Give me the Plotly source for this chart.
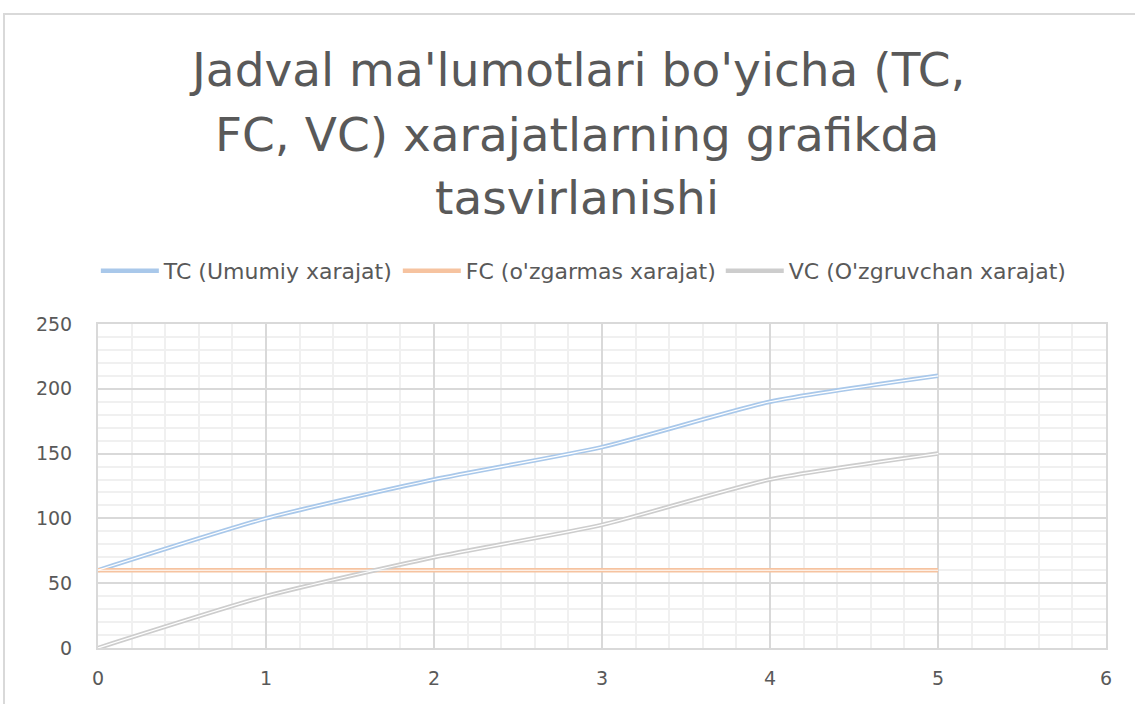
import plotly.graph_objects as go

x_vals = [0, 1, 2, 3, 4, 5]
tc_vals = [60, 100, 130, 155, 190, 210]
fc_vals = [60, 60, 60, 60, 60, 60]
vc_vals = [0, 40, 70, 95, 130, 150]

series_names = ["TC (Umumiy xarajat)", "FC (o'zgarmas xarajat)", "VC (O'zgruvchan xarajat)"]
series_vals = [tc_vals, fc_vals, vc_vals]
series_colors = ["#A9C8EA", "#F6C3A0", "#CDCDCD"]

title_lines = ["Jadval ma'lumotlari bo'yicha (TC,", "FC, VC) xarajatlarning grafikda", "tasvirlanishi"]

fig = go.Figure()
for name, vals, col in zip(series_names, series_vals, series_colors):
    fig.add_trace(go.Scatter(x=x_vals, y=vals, mode="lines", name=name,
                             line=dict(color=col, width=4.5, shape="spline", smoothing=0.6)))
for name, vals, col in zip(series_names, series_vals, series_colors):
    fig.add_trace(go.Scatter(x=x_vals, y=vals, mode="lines", showlegend=False, hoverinfo="skip",
                             line=dict(color="white", width=1.2, shape="spline", smoothing=0.6)))

font_fam = "DejaVu Sans, sans-serif"
fig.update_layout(
    width=1135, height=704,
    paper_bgcolor="white", plot_bgcolor="white",
    margin=dict(l=98, r=29, t=324, b=56),
    legend=dict(orientation="h", x=0.482, xanchor="center", y=1.1636, yanchor="middle",
                font=dict(family=font_fam, size=22, color="#595959"),
                itemwidth=58, tracegroupgap=0),
    font=dict(family=font_fam, color="#595959"),
    showlegend=True,
)
title_y = [1.785, 1.585, 1.39]
for txt, yy in zip(title_lines, title_y):
    fig.add_annotation(text=txt, xref="paper", yref="paper", x=0.475, y=yy,
                       xanchor="center", yanchor="middle", showarrow=False,
                       font=dict(family=font_fam, size=47, color="#595959"))

fig.update_xaxes(range=[0, 6], dtick=1, tick0=0, showgrid=True, gridcolor="#D9D9D9", gridwidth=2,
                 minor=dict(dtick=0.2, showgrid=True, gridcolor="#F0F0F0", gridwidth=2),
                 zeroline=False, showline=True, linecolor="#D9D9D9", linewidth=2, mirror=True,
                 ticks="", tickfont=dict(size=19, color="#595959"), ticklabelstandoff=12)
fig.update_yaxes(range=[0, 250], dtick=50, tick0=0, showgrid=True, gridcolor="#D9D9D9", gridwidth=2,
                 minor=dict(dtick=10, showgrid=True, gridcolor="#F0F0F0", gridwidth=2),
                 zeroline=False, showline=True, linecolor="#D9D9D9", linewidth=2, mirror=True,
                 ticks="", tickfont=dict(size=19, color="#595959"), ticklabelstandoff=20)

fig.add_shape(type="rect", xref="paper", yref="paper",
              x0=(4 - 98) / 1008, x1=1.2, y0=-0.3, y1=(648 - 14) / 324,
              line=dict(color="#D9D9D9", width=2), fillcolor="rgba(0,0,0,0)", layer="below")

fig.write_html("out.html", config={"displayModeBar": False},
               post_script="document.body.style.margin='0';document.body.style.padding='0';")
